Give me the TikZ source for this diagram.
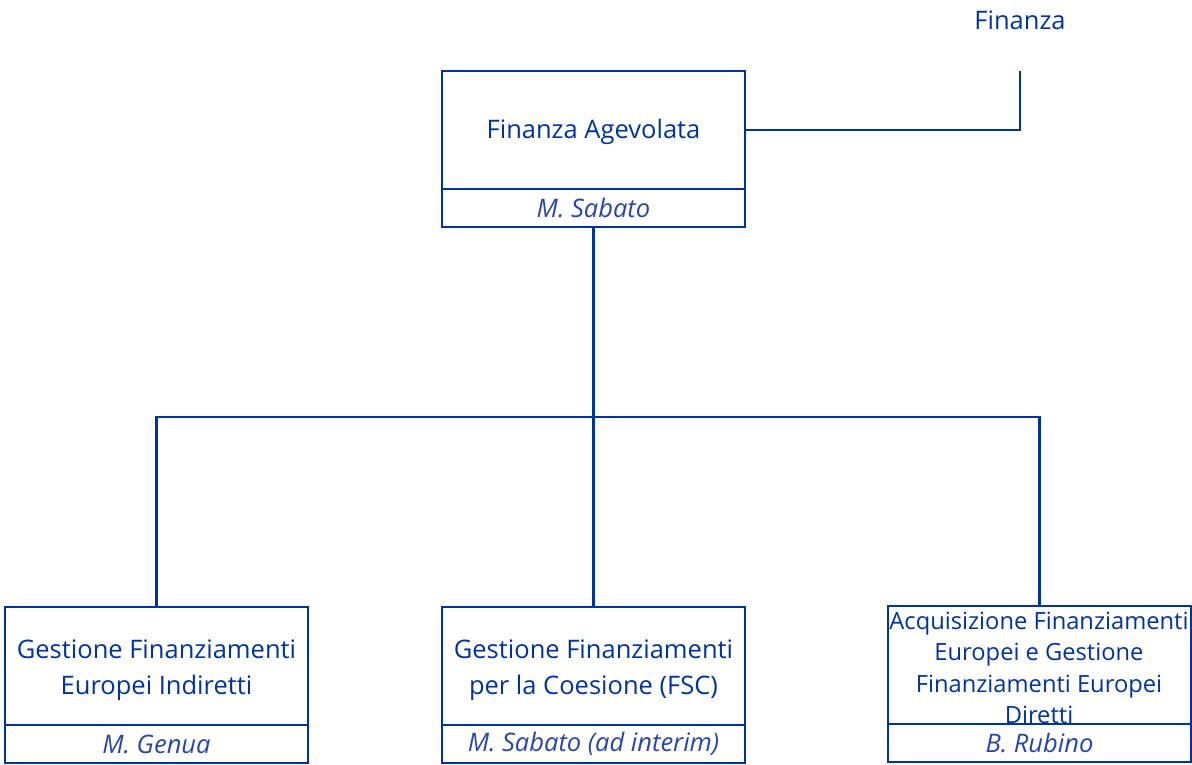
\documentclass[tikz,border=0pt]{standalone}
\usepackage{fontspec}
\setmainfont{Open Sans}
\definecolor{ob}{RGB}{0,51,160}
\definecolor{nb}{RGB}{40,70,170}
\begin{document}
\begin{tikzpicture}[x=1pt,y=-1pt,
  unit/.style={draw=ob,line width=2.8pt,rectangle,minimum width=303pt,minimum height=118pt,inner sep=0pt,outer sep=0pt,anchor=north west},
  utext/.style={text=ob,align=center,inner sep=0pt,font=\fontsize{25.5}{36}\selectfont},
  mgr/.style={draw=ob,line width=2.8pt,rectangle,minimum width=303pt,minimum height=38pt,inner sep=0pt,outer sep=0pt,text=nb,font=\fontsize{25.5}{30}\selectfont\itshape,anchor=north west},
  conn/.style={draw=ob,line width=2.8pt}]
\useasboundingbox (0,0) rectangle (1192,764);
\node[unit] (top) at (442,71) {};
\node[utext] (topt) at (593.5,132) {Finanza Agevolata};
\node[mgr] (topm) at (442,189) {M. Sabato};
\node[text=ob,font=\fontsize{25.5}{30}\selectfont] (fin) at (1020,20) {Finanza};
\coordinate (finc) at (1020,71);
\node[unit] (b1) at (5,607) {};
\node[utext] (b1t) at (156.5,670) {Gestione Finanziamenti\\Europei Indiretti};
\node[mgr] (b1m) at (5,725) {M. Genua};
\node[unit] (b2) at (442,607) {};
\node[utext] (b2t) at (593.5,670) {Gestione Finanziamenti\\per la Coesione (FSC)};
\node[mgr] (b2m) at (442,725) {M. Sabato (ad interim)};
\node[unit] (b3) at (888,606) {};
\node[utext,font=\fontsize{23.7}{31.5}\selectfont] (b3t) at (1039,668) {Acquisizione Finanziamenti\\Europei e Gestione\\Finanziamenti Europei\\Diretti};
\node[mgr] (b3m) at (888,724) {B. Rubino};
\coordinate (j) at (593.5,417);
\draw[conn] (top.east) -| (finc);
\draw[conn] (topm.south) -- (b2.north);
\draw[conn] (b1.north) |- (j) -| (b3.north);
\end{tikzpicture}
\end{document}
